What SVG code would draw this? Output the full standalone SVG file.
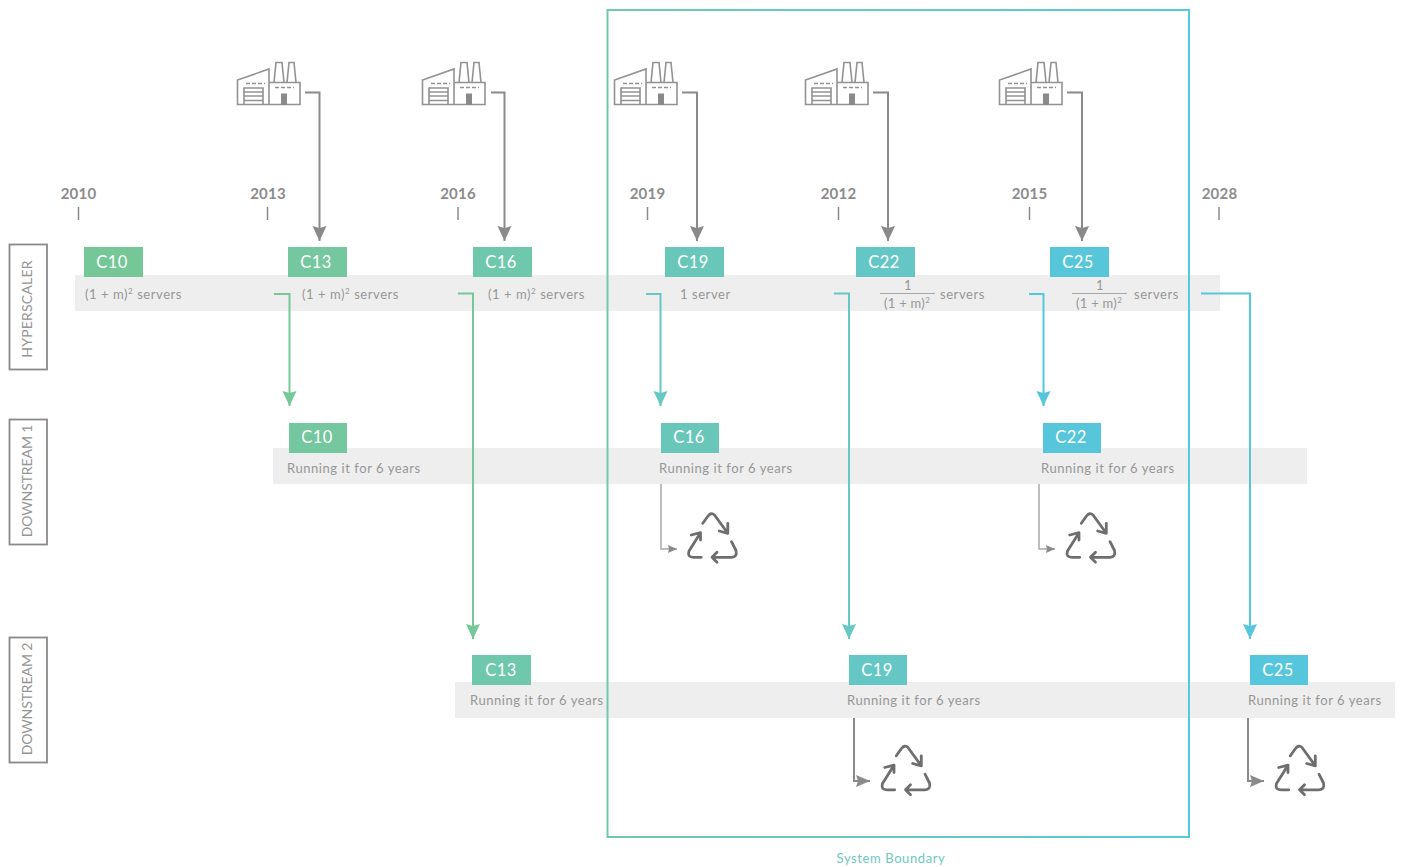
<svg xmlns="http://www.w3.org/2000/svg" width="1403" height="867" viewBox="0 0 1403 867">
<style>
text{font-family:"Lato","Open Sans","Liberation Sans",sans-serif}
.bar{fill:#eeeeee}
.yr{font-size:15px;font-weight:700;fill:#8c8c8c;text-anchor:middle;letter-spacing:.2px}
.tick{stroke:#8a8a8a;stroke-width:1.5;fill:none}
.lab{fill:none;stroke:#8a8a8a;stroke-width:1.8}
.labt{font-size:14px;fill:#959595;text-anchor:middle;letter-spacing:.2px}
.lab2{letter-spacing:-.1px}
.bt{font-size:16.5px;fill:#fff;text-anchor:middle;letter-spacing:.5px}
.t{font-size:13px;fill:#979797;letter-spacing:.56px}
.sup{font-size:8px;fill:#979797}
.frac{font-size:13px;fill:#979797;text-anchor:middle;letter-spacing:.3px}
.fl{stroke:#a8a8a8;stroke-width:1;fill:none}
.c{fill:none;stroke-width:2}
.g{stroke:#8a8a8a}
.gr{stroke:#76c898}
.te{stroke:#66c8c2}
.bl{stroke:#56c6dc}
.sm{fill:none;stroke:#a8a8a8;stroke-width:1.5}
.sm2{fill:none;stroke:#8a8a8a;stroke-width:2}
.fa{fill:none;stroke:#929292;stroke-width:1.6}
.re{fill:none;stroke:#6e6e6e;stroke-width:2.8;stroke-linecap:round;stroke-linejoin:round}
</style>
<defs>
<linearGradient id="bd" gradientUnits="userSpaceOnUse" x1="607" y1="0" x2="1189" y2="0"><stop offset="0" stop-color="#70c9ae"/><stop offset="1" stop-color="#58c8e0"/></linearGradient>
<marker id="ag" markerUnits="userSpaceOnUse" markerWidth="16" markerHeight="16" refX="15" refY="7" orient="auto"><path d="M0 0L15 7L0 14L2 7z" fill="#8a8a8a"/></marker>
<marker id="agr" markerUnits="userSpaceOnUse" markerWidth="16" markerHeight="16" refX="15" refY="7" orient="auto"><path d="M0 0L15 7L0 14L2 7z" fill="#76c898"/></marker>
<marker id="ate" markerUnits="userSpaceOnUse" markerWidth="16" markerHeight="16" refX="15" refY="7" orient="auto"><path d="M0 0L15 7L0 14L2 7z" fill="#66c8c2"/></marker>
<marker id="abl" markerUnits="userSpaceOnUse" markerWidth="16" markerHeight="16" refX="15" refY="7" orient="auto"><path d="M0 0L15 7L0 14L2 7z" fill="#56c6dc"/></marker>
<marker id="as" markerUnits="userSpaceOnUse" markerWidth="10" markerHeight="10" refX="9" refY="4" orient="auto"><path d="M0 0L9 4L0 8L1 4z" fill="#8a8a8a"/></marker>
<marker id="am" markerUnits="userSpaceOnUse" markerWidth="16" markerHeight="16" refX="14" refY="6" orient="auto"><path d="M0 0L14 6L0 12L2 6z" fill="#8a8a8a"/></marker>
<symbol id="factory" overflow="visible">
<path class="fa" d="M0.500 42.500V18L32 7V42.500zM32 20.500H63V42.500H32z"/>
<path class="fa" d="M37 20.500L39 0.500H45L47 20.500M50 20.500L52 0.500H57L59 20.500"/>
<path class="fa" stroke-dasharray="4 2" d="M9 21.500H28M38 25.500H57"/>
<path class="fa" d="M7 42.500V26H26V42.500M7 30H26M7 34H26M7 38.500H26" stroke-width="1.400"/>
<rect x="44" y="31.500" width="6" height="11.500" fill="#8a8a8a"/>
</symbol>
<symbol id="recycle" overflow="visible">
<path class="re" d="M17.300 11.300L22.500 4Q25.700 0 29 3L42.300 21.300M33.700 19L42.300 21.300L42.300 11.300"/>
<path class="re" d="M15 20.700L3.500 39Q1.500 45.300 8 45.300H15.700M5.700 23L15 20.700L15 28"/>
<path class="re" d="M46 29.700L50.500 38.500Q52 45.300 46 45.300H26.500M31.500 40.300L26.500 45.300L31.500 50.300"/>
</symbol>
</defs>

<g id="bars">
<rect class="bar" x="75" y="275" width="1145" height="36"/>
<rect class="bar" x="273" y="448" width="1034" height="36"/>
<rect class="bar" x="455" y="682" width="940" height="36"/>
</g>

<g id="years">
<text class="yr" x="78.500" y="199">2010</text><path class="tick" d="M78.500 207V220"/>
<text class="yr" x="268" y="199">2013</text><path class="tick" d="M267.500 207V220"/>
<text class="yr" x="458" y="199">2016</text><path class="tick" d="M458 207V220"/>
<text class="yr" x="647.500" y="199">2019</text><path class="tick" d="M647.500 207V220"/>
<text class="yr" x="838.500" y="199">2012</text><path class="tick" d="M838.500 207V220"/>
<text class="yr" x="1029.500" y="199">2015</text><path class="tick" d="M1029.500 207V220"/>
<text class="yr" x="1219.500" y="199">2028</text><path class="tick" d="M1219 207V220"/>
</g>

<g id="connectors">
<path class="c g" marker-end="url(#ag)" d="M305 92.500H319.500V241"/>
<path class="c g" marker-end="url(#ag)" d="M491 92.500H504.500V241"/>
<path class="c g" marker-end="url(#ag)" d="M682 92.500H697V241"/>
<path class="c g" marker-end="url(#ag)" d="M873 92.500H888V241"/>
<path class="c g" marker-end="url(#ag)" d="M1067 92.500H1082V241"/>
<path class="c gr" marker-end="url(#agr)" d="M274 294H289.500V406"/>
<path class="c gr" marker-end="url(#agr)" d="M458 293.500H473V639"/>
<path class="c te" marker-end="url(#ate)" d="M646 294H660.500V406"/>
<path class="c te" marker-end="url(#ate)" d="M834 293.500H849V639"/>
<path class="c bl" marker-end="url(#abl)" d="M1029 294H1043.500V406"/>
<path class="c bl" marker-end="url(#abl)" d="M1201 293.500H1250V639"/>
<path class="sm" marker-end="url(#as)" d="M661 484V549H677"/>
<path class="sm" marker-end="url(#as)" d="M1039 484V549H1055"/>
<path class="sm2" marker-end="url(#am)" d="M854 718V781H870"/>
<path class="sm2" marker-end="url(#am)" d="M1248 718V781H1264"/>
</g>

<g id="factory-2013"><use href="#factory" x="237" y="62"/></g>
<g id="factory-2016"><use href="#factory" x="422" y="62"/></g>
<g id="factory-2019"><use href="#factory" x="614" y="62"/></g>
<g id="factory-2012"><use href="#factory" x="805" y="62"/></g>
<g id="factory-2015"><use href="#factory" x="999" y="62"/></g>

<g id="recycle-1"><use href="#recycle" x="685.500" y="512"/></g>
<g id="recycle-2"><use href="#recycle" x="1064" y="512"/></g>
<g id="recycle-3"><use href="#recycle" x="879" y="744.500"/></g>
<g id="recycle-4"><use href="#recycle" x="1273" y="744.500"/></g>

<g id="label-hyperscaler"><rect class="lab" x="9.500" y="244.500" width="37.500" height="125"/><text class="labt" transform="translate(32 309) rotate(-90)">HYPERSCALER</text></g>
<g id="label-downstream1"><rect class="lab" x="9.500" y="419.500" width="37.500" height="125"/><text class="labt lab2" transform="translate(32 481) rotate(-90)">DOWNSTREAM 1</text></g>
<g id="label-downstream2"><rect class="lab" x="9.500" y="637.500" width="37.500" height="125"/><text class="labt lab2" transform="translate(32 699) rotate(-90)">DOWNSTREAM 2</text></g>

<g id="hs-c10"><rect x="84" y="247" width="59" height="30" fill="#76c798"/><text class="bt" x="112" y="268">C10</text></g>
<g id="hs-c13"><rect x="288" y="247" width="59" height="30" fill="#74c79f"/><text class="bt" x="316" y="268">C13</text></g>
<g id="hs-c16"><rect x="473" y="247" width="59" height="30" fill="#6fc7ac"/><text class="bt" x="501" y="268">C16</text></g>
<g id="hs-c19"><rect x="665" y="247" width="59" height="30" fill="#69c7ba"/><text class="bt" x="693" y="268">C19</text></g>
<g id="hs-c22"><rect x="856" y="247" width="59" height="30" fill="#64c7c5"/><text class="bt" x="884" y="268">C22</text></g>
<g id="hs-c25"><rect x="1050" y="247" width="59" height="30" fill="#58c6da"/><text class="bt" x="1078" y="268">C25</text></g>

<g id="d1-c10"><rect x="289" y="423" width="58" height="30" fill="#74c79f"/><text class="bt" x="317" y="443">C10</text></g>
<g id="d1-c16"><rect x="661" y="423" width="58" height="30" fill="#69c7ba"/><text class="bt" x="689" y="443">C16</text></g>
<g id="d1-c22"><rect x="1043" y="423" width="58" height="30" fill="#58c6da"/><text class="bt" x="1071" y="443">C22</text></g>

<g id="d2-c13"><rect x="472" y="655" width="59" height="30" fill="#6fc7ac"/><text class="bt" x="501" y="676">C13</text></g>
<g id="d2-c19"><rect x="849" y="655" width="58" height="30" fill="#64c7c5"/><text class="bt" x="877" y="676">C19</text></g>
<g id="d2-c25"><rect x="1250" y="655" width="58" height="30" fill="#56c6dc"/><text class="bt" x="1278" y="676">C25</text></g>

<g id="row-text">
<text class="t" x="85" y="299">(1 + m)<tspan class="sup" dy="-5">2</tspan><tspan dy="5"> servers</tspan></text>
<text class="t" x="302" y="299">(1 + m)<tspan class="sup" dy="-5">2</tspan><tspan dy="5"> servers</tspan></text>
<text class="t" x="488" y="299">(1 + m)<tspan class="sup" dy="-5">2</tspan><tspan dy="5"> servers</tspan></text>
<text class="t" x="680" y="299">1 server</text>
<text class="frac" x="908" y="290">1</text><path class="fl" d="M880 293.500H935"/>
<text class="frac" x="907" y="308">(1 + m)<tspan class="sup" dy="-5">2</tspan></text>
<text class="t" x="940" y="299">servers</text>
<text class="frac" x="1100" y="290">1</text><path class="fl" d="M1072 293.500H1127"/>
<text class="frac" x="1099" y="308">(1 + m)<tspan class="sup" dy="-5">2</tspan></text>
<text class="t" x="1134" y="299">servers</text>
<text class="t" x="287" y="473">Running it for 6 years</text>
<text class="t" x="659" y="473">Running it for 6 years</text>
<text class="t" x="1041" y="473">Running it for 6 years</text>
<text class="t" x="470" y="705">Running it for 6 years</text>
<text class="t" x="847" y="705">Running it for 6 years</text>
<text class="t" x="1248" y="705">Running it for 6 years</text>
</g>

<g id="system-boundary">
<rect x="607.500" y="10" width="581.500" height="827" fill="none" stroke="url(#bd)" stroke-width="2"/>
<text x="891" y="862.500" font-size="13" fill="#6ccabf" text-anchor="middle" letter-spacing=".6">System Boundary</text>
</g>
</svg>
